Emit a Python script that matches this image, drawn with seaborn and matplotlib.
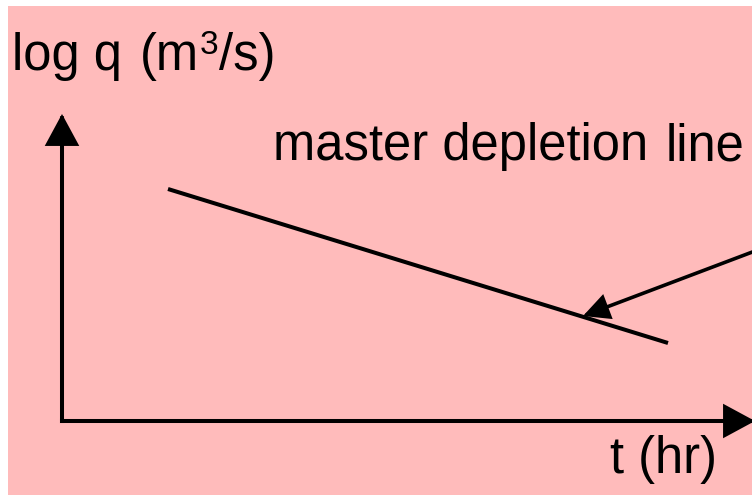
import matplotlib
matplotlib.use("Agg")
import matplotlib.pyplot as plt
import seaborn as sns
import pandas as pd

sns.set_theme(style="white")
plt.rcParams["font.family"] = ["Liberation Sans", "DejaVu Sans"]

# Master depletion line (time in hr, log discharge)
t_line = [1.06, 6.06]
logq_line = [2.32, 0.78]

# Axis extents
t_axis_end = 6.93
logq_axis_end = 3.07

# Pointer arrow from the label to the line
pointer_tail = (7.38, 1.87)
pointer_tip = (5.21, 1.05)

PINK = "#FFBBBB"

fig = plt.figure(figsize=(7.52, 4.95), dpi=100, facecolor="white")
ax = fig.add_axes([8 / 752, 0, 744 / 752, 489 / 495])
ax.set_facecolor(PINK)
ax.set_xlim(-0.54, 6.90)
ax.set_ylim(-0.74, 4.15)
ax.set_axis_off()
ax.add_patch(plt.Rectangle((0, 0), 1, 1, transform=ax.transAxes,
                           facecolor=PINK, edgecolor="none", zorder=0))

df = pd.DataFrame({"t": t_line, "logq": logq_line})
sns.lineplot(data=df, x="t", y="logq", color="black", lw=2.9, ax=ax,
             solid_capstyle="butt")

axis_style = "-|>,head_length=18.5,head_width=10"
ax.annotate("", xy=(0, logq_axis_end), xytext=(0, 0),
            arrowprops=dict(arrowstyle=axis_style, lw=2.9, color="black",
                            shrinkA=0, shrinkB=0, mutation_scale=1,
                            joinstyle="miter", capstyle="projecting"))
ax.annotate("", xy=(t_axis_end, 0), xytext=(0, 0),
            arrowprops=dict(arrowstyle=axis_style, lw=2.9, color="black",
                            shrinkA=0, shrinkB=0, mutation_scale=1,
                            joinstyle="miter", capstyle="projecting"),
            annotation_clip=False)
ax.annotate("", xy=pointer_tip, xytext=pointer_tail,
            arrowprops=dict(arrowstyle="-|>,head_length=15,head_width=7.5",
                            lw=2.6, color="black", shrinkA=0, shrinkB=0,
                            mutation_scale=1, joinstyle="miter"),
            annotation_clip=False)

W, H = 752, 495
renderer = fig.canvas.get_renderer()


def label(x, y, s, size=36.5):
    txt = fig.text(x / W, 1 - y / H, s, fontsize=size, color="black",
                   va="baseline", ha="left")
    return txt.get_window_extent(renderer).x1


label(12, 70, "log q")
# unit label with a raised exponent, each piece placed after the last
x_end = label(140, 70, "(m")
x_end = label(x_end + 1, 54, "3", size=24)
label(x_end, 70, "/s)")
label(273, 160, "master depletion")
label(666, 160, "line")
label(610, 473, "t (hr)")

fig.savefig("out.png", dpi=100, facecolor="white")
